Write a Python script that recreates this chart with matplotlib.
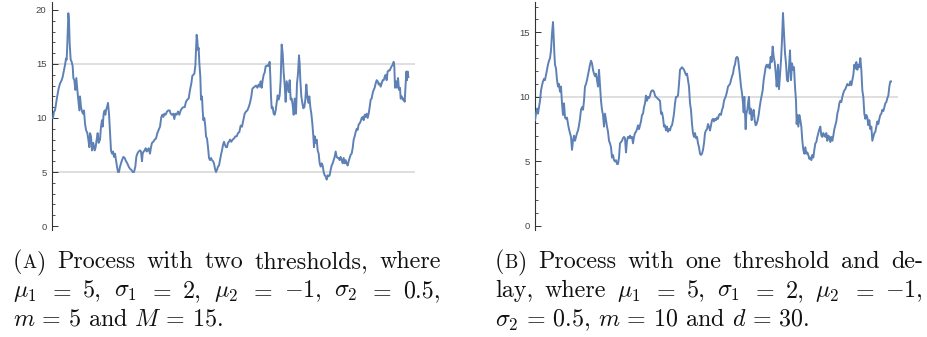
import matplotlib
matplotlib.use("Agg")
import matplotlib.pyplot as plt
import matplotlib.transforms as mtrans

plt.rcParams['mathtext.fontset'] = 'cm'

# ---------------- data: panel (A) ----------------
t_a = [0,3,6,11,16,21,26,29,33,36,39,41,43,46,48,50,53,56,59,61,64,67,70,73,76,79,81,84,87,90,
       93,96,99,103,106,109,111,114,117,121,125,128,131,134,137,141,144,147,149,152,155,157,159,162,165,
       168,171,174,177,180,183,186,189,192,195,198,201,204,207,211,215,219,223,227,231,235,239,243,247,250,
       253,257,261,264,267,269,272,275,278,281,284,287,291,294,297,301,305,309,313,317,321,325,328,331,334,
       338,342,346,350,353,357,361,364,
       367,371,375,379,383,387,391,395,399,403,407,411,415,418,421,424,427,429,431,433,
       435,437,439,442,444,447,449,451,454,457,459,462,465,468,471,474,477,480,483,486,
       489,492,495,498,501,504,507,510,513,516,519,522,525,528,531,535,539,543,547,551,
       555,559,563,567,571,575,579,583,587,591,595,598,601,605,609,613,617,620,623,626,
       629,632,635,638,641,644,647,650,652,654,656,659,662,665,668,671,674,677,680,683,
       686,689,692,695,698,701,704,707,710,713,716,719,722,725,
       729,732,735,738,740,742,745,748,751,754,757,760,763,766,769,772,775,778,781,783,
       785,788,791,794,797,800,803,806,809,812,815,818,821,824,827,830,833,836,839,842,
       845,848,851,854,857,860,863,866,869,872,875,878,881,884,887,890,893,896,899,902,
       905,908,911,914,917,920,923,926,929,932,935,938,941,944,947,950,953,956,959,962,
       965,968,971,974,977,980,983,986,989,992,995,998,1001,1004,1007,1010,1013,1016,1019,1022,
       1024,1026,1029,1032,1035,1038,1041,1043,1046,1049,1052,1055,1058,1060,1062,1064,1066]
v_a = [10.0,10.6,10.7,11.7,12.6,13.2,13.5,13.8,14.4,14.9,
       15.5,15.4,16.9,19.7,19.1,16.9,15.4,15.2,14.8,13.7,
       13.5,12.6,13.7,12.6,11.7,10.7,12.0,11.0,10.6,10.4,
       10.7,9.5,8.9,8.6,8.0,7.3,8.6,8.3,7.0,7.7,
       7.0,7.3,8.0,8.6,7.7,8.0,9.2,9.8,9.2,10.4,
       10.7,10.3,10.7,11.0,11.4,10.4,8.6,7.0,6.7,6.9,
       6.4,6.7,6.1,5.5,5.0,5.0,5.5,5.8,6.1,6.4,
       6.3,6.0,5.8,5.5,5.3,5.2,5.0,5.0,5.5,6.4,
       6.7,6.9,7.0,6.9,6.0,6.7,6.9,7.0,7.2,6.9,
       7.0,7.2,6.7,7.3,7.7,7.8,8.0,8.1,8.6,8.9,
       9.2,10.1,10.3,10.1,10.4,10.3,10.6,10.7,10.7,10.4,
       10.3,10.4,9.9,
       10.4,10.3,10.6,10.3,10.7,10.9,11.0,11.0,11.5,11.7,
       11.8,12.6,13.2,13.9,14.0,14.1,14.8,16.3,17.7,17.2,
       16.3,16.5,15.1,13.8,11.7,12.0,10.7,9.8,10.0,9.2,
       8.3,8.1,7.3,6.3,6.1,6.3,6.1,6.0,5.8,5.3,
       5.0,5.2,5.5,5.6,6.1,6.6,7.0,7.5,7.8,7.5,
       7.3,7.3,7.7,7.8,8.0,7.8,8.0,8.1,8.3,8.3,
       8.6,8.7,9.3,9.2,9.8,10.4,10.6,10.7,11.0,11.4,
       12.0,12.7,12.8,12.9,13.0,12.8,13.1,12.9,13.4,12.8,
       13.5,14.0,14.2,14.8,14.8,14.9,14.8,15.2,13.8,12.0,
       10.9,11.0,10.4,10.3,10.7,11.4,12.1,11.7,12.1,13.5,
       16.8,16.0,14.2,13.1,11.5,13.4,12.9,12.4,13.5,11.7,
       11.8,11.2,10.3,11.8,
       10.4,13.2,14.1,15.8,15.0,13.5,12.0,11.4,10.9,11.0,
       11.7,13.1,12.0,11.4,12.0,11.0,10.4,9.5,8.3,7.3,
       8.3,7.7,8.0,7.0,6.7,5.8,5.5,5.8,5.6,5.0,
       4.7,4.6,4.3,4.7,4.6,4.7,5.2,5.6,5.8,6.1,
       6.4,6.9,6.4,6.3,6.3,6.1,6.4,6.1,5.8,6.3,
       5.8,6.1,5.8,5.6,6.0,6.3,6.6,6.7,7.2,8.0,
       8.3,8.7,9.0,8.9,9.4,9.5,9.7,10.0,10.1,9.8,
       10.3,10.1,10.4,10.0,10.4,11.0,11.7,11.8,12.3,12.6,
       12.8,13.2,13.5,13.4,13.1,13.2,12.9,13.2,13.5,13.5,
       13.8,14.0,13.5,14.3,14.4,14.4,14.6,14.8,14.9,15.2,
       14.8,12.8,13.4,12.8,13.7,12.6,12.8,11.8,12.0,11.7,
       11.8,11.5,13.2,14.3,13.5,14.3,13.8]
thresholds_a = [5, 15]

# ---------------- data: panel (B) ----------------
t_b = [0,3,6,9,12,15,18,21,24,27,30,33,36,39,42,45,48,51,54,56,
       58,60,63,66,69,72,75,78,81,84,87,90,93,96,99,102,105,108,111,114,
       117,120,123,126,129,132,135,138,141,144,147,150,153,156,159,162,165,168,171,174,
       177,180,183,186,189,192,195,198,201,204,207,210,213,216,219,222,225,228,231,234,
       237,240,243,246,249,252,255,258,261,264,267,270,273,276,279,282,285,288,291,294,
       297,300,303,306,309,312,315,318,321,324,327,330,333,336,339,342,345,348,351,354,
       357,360,363,
       375,378,381,384,387,390,393,396,399,402,405,408,411,414,417,420,423,426,429,432,
       435,438,441,444,447,450,453,456,459,462,465,468,471,474,477,480,483,486,489,492,
       495,498,501,504,507,510,513,516,519,522,525,528,531,534,537,540,543,546,549,552,
       555,558,561,564,567,570,573,576,579,582,585,588,591,594,597,600,603,606,609,612,
       615,618,621,624,626,628,630,632,634,637,640,642,644,647,650,653,656,659,662,665,
       668,671,674,677,680,683,686,689,692,695,698,701,704,707,710,713,716,719,722,725,
       729,732,735,738,741,744,747,750,753,756,759,762,765,768,771,774,777,780,783,785,
       787,790,793,796,799,802,805,808,811,814,817,820,823,826,829,832,835,838,841,844,
       847,850,853,856,859,862,865,868,871,874,877,880,883,886,889,892,895,898,901,904,
       907,910,913,916,919,922,925,928,931,934,937,940,943,946,949,952,955,958,961,964,
       967,970,973,976,979,982,985,988,991,994,997,1000,1003,1006,1009,1012,1015,1018,1021,1024,
       1027,1030,1033,1036,1039,1042,1045,1048,1051,1054,1057,1060,1063,1066,1068]
v_b = [8.2,8.7,9.1,8.7,9.2,9.7,10.5,10.9,11.2,11.4,
       11.3,11.7,12.1,12.5,12.8,13.0,13.6,14.9,15.8,14.7,
       13.4,12.5,12.2,11.3,10.8,11.0,10.4,10.8,9.5,8.6,
       9.5,8.4,8.3,8.4,7.9,7.5,7.2,6.9,5.9,6.6,
       7.0,6.6,6.9,7.2,7.4,7.8,8.3,9.0,9.2,9.0,
       9.7,10.8,11.0,11.3,11.7,12.1,12.5,12.8,12.6,12.1,
       11.8,11.6,11.8,11.3,10.8,12.1,10.9,9.7,9.0,8.6,
       7.7,8.7,8.2,7.7,7.3,6.6,6.4,6.1,5.3,5.5,
       5.1,5.0,5.1,4.8,4.8,5.3,6.4,6.5,6.6,6.8,
       6.9,6.8,5.7,6.6,6.9,6.8,7.0,6.8,6.9,6.4,
       6.9,7.2,7.3,7.5,7.8,7.5,7.8,8.1,8.6,8.7,
       9.2,9.5,10.1,9.7,10.0,9.9,10.1,10.4,10.5,10.5,
       10.4,10.1,10.0,
       9.7,8.7,8.8,8.4,7.7,7.8,7.4,7.7,7.3,7.5,
       7.4,7.7,7.8,8.2,8.7,9.5,10.0,10.0,10.1,11.0,
       12.1,12.2,12.3,12.2,12.1,11.9,11.7,11.8,11.3,10.8,
       9.5,9.0,7.9,7.2,6.9,7.2,6.8,6.9,6.4,6.1,
       5.6,5.5,5.6,5.9,6.4,7.2,7.4,7.5,7.9,7.7,
       7.4,7.8,8.2,8.3,8.1,8.3,8.2,8.4,8.3,8.6,
       8.7,8.6,9.0,9.2,9.7,9.9,10.1,10.4,10.8,10.9,
       11.0,11.3,11.6,11.8,12.3,12.5,13.0,13.1,13.0,12.3,
       11.6,10.8,10.3,9.5,8.8,10.0,8.7,7.5,8.7,9.0,
       9.7,10.0,8.7,9.1,8.2,8.7,9.0,8.2,7.8,7.9,
       8.2,8.6,9.2,9.7,10.1,10.5,11.3,11.8,12.3,12.5,
       12.3,12.5,12.2,13.1,12.7,13.9,13.1,12.7,11.9,10.8,
       12.5,10.6,11.7,12.8,14.4,16.5,14.9,13.4,12.6,11.3,
       11.2,12.3,13.6,11.3,12.6,12.1,12.3,10.8,9.7,7.9,
       8.6,7.7,8.6,8.2,7.7,6.6,5.9,5.6,6.1,5.6,
       5.7,5.5,5.2,5.3,5.1,5.5,5.3,5.9,6.4,6.5,
       6.9,7.2,7.5,7.7,7.0,6.9,7.2,7.0,6.9,7.2,
       6.6,7.0,6.9,6.5,6.9,6.6,7.0,7.5,7.8,8.1,
       8.7,9.0,9.5,9.7,9.6,10.0,10.3,10.5,10.6,10.8,
       11.0,10.9,10.9,11.2,10.9,11.3,11.7,12.5,12.2,12.7,
       12.1,12.5,12.3,13.0,12.1,10.5,10.0,8.7,8.3,8.6,
       8.4,7.8,8.2,7.5,7.7,6.6,6.9,7.2,7.3,7.7,
       8.1,7.9,8.3,8.6,8.7,9.0,8.9,9.2,9.5,9.6,
       9.9,10.1,10.8,11.2,11.2]
thresholds_b = [10]

ticks = [0, 5, 10, 15, 20]
caption_a = [
    [[("(", 1), ("A", 0.78), (")", 1)], [("Process", 1)], [("with", 1)], [("two", 1)],
     [("thresholds,", 1)], [("where", 1)]],
    [[(r"$\mu_1$", 1)], [(r"$=$", 1)], [("5,", 1)], [(r"$\sigma_1$", 1)], [(r"$=$", 1)], [("2,", 1)],
     [(r"$\mu_2$", 1)], [(r"$=$", 1)], [(r"$-1$,", 1)], [(r"$\sigma_2$", 1)], [(r"$=$", 1)], [("0.5,", 1)]],
]
caption_a_last = r"$m\,=\,5$ and $M\,=\,15$."
caption_b = [
    [[("(", 1), ("B", 0.78), (")", 1)], [("Process", 1)], [("with", 1)], [("one", 1)],
     [("threshold", 1)], [("and", 1)], [("de-", 1)]],
    [[("lay,", 1)], [("where", 1)], [(r"$\mu_1$", 1)], [(r"$=$", 1)], [("5,", 1)], [(r"$\sigma_1$", 1)],
     [(r"$=$", 1)], [("2,", 1)], [(r"$\mu_2$", 1)], [(r"$=$", 1)], [(r"$-1$,", 1)]],
]
caption_b_last = r"$\sigma_2\,=\,0.5$, $m\,=\,10$ and $d\,=\,30$."

W, H = 927, 337
fig = plt.figure(figsize=(W / 100, H / 100), dpi=100)
LINE = '#5E81B5'
GRID = '#d6d6d6'


def make_axes(left_px, right_px, top_px, bot_px):
    ax = fig.add_axes([left_px / W, 1 - bot_px / H, (right_px - left_px) / W, (bot_px - top_px) / H])
    for s in ('top', 'right', 'bottom'):
        ax.spines[s].set_visible(False)
    ax.spines['left'].set_color('#333333')
    ax.spines['left'].set_linewidth(0.8)
    ax.set_xticks([])
    ax.set_yticks(ticks)
    ax.set_yticks(range(0, 21), minor=True)
    ax.tick_params(axis='y', which='major', direction='in', length=4, width=0.7,
                   color='#333333', labelsize=6.8, labelcolor='#444444', pad=4)
    ax.tick_params(axis='y', which='minor', direction='in', length=2, width=0.6, color='#333333')
    for lab in ax.get_yticklabels():
        lab.set_family('Liberation Sans')
    ax.patch.set_visible(False)
    return ax


ax1 = make_axes(52, 415, 2, 230)
ax1.set_xlim(-3, 1086)
ax1.set_ylim(-0.37, 20.74)
for th in thresholds_a:
    ax1.axhline(th, color=GRID, lw=1.1, zorder=1)
ax1.plot(t_a, v_a, color=LINE, lw=1.4, zorder=3)

ax2 = make_axes(535, 898, 2, 230)
ax2.set_xlim(0, 1089)
ax2.set_ylim(-0.31, 17.35)
for th in thresholds_b:
    ax2.axhline(th, color=GRID, lw=1.1, zorder=1)
ax2.plot(t_b, v_b, color=LINE, lw=1.4, zorder=3)

# ---------------- captions ----------------
ID = mtrans.IdentityTransform()
FS = 17.3
fig.canvas.draw()
renderer = fig.canvas.get_renderer()


def justified(tokens, x0, x1, y_px):
    words = []
    for w in tokens:
        parts = [fig.text(0, 0, s, fontsize=FS * sc, family='cmr10', va='baseline', ha='left',
                          transform=ID, color='#111111') for s, sc in w]
        words.append(parts)
    widths = [[p.get_window_extent(renderer).width for p in parts] for parts in words]
    total = sum(sum(ws) for ws in widths)
    gap = (x1 - x0 - total) / (len(words) - 1)
    x = x0
    for parts, ws in zip(words, widths):
        for p, w in zip(parts, ws):
            p.set_position((x, H - y_px))
            x += w
        x += gap


def plain(s, x0, y_px):
    fig.text(x0, H - y_px, s, fontsize=FS, family='cmr10', va='baseline', ha='left',
             transform=ID, color='#111111')


justified(caption_a[0], 13, 441, 268)
justified(caption_a[1], 13, 441, 297)
plain(caption_a_last, 13, 326)
justified(caption_b[0], 495, 923, 268)
justified(caption_b[1], 495, 923, 297)
plain(caption_b_last, 495, 326)

fig.savefig('out.png', dpi=100)
